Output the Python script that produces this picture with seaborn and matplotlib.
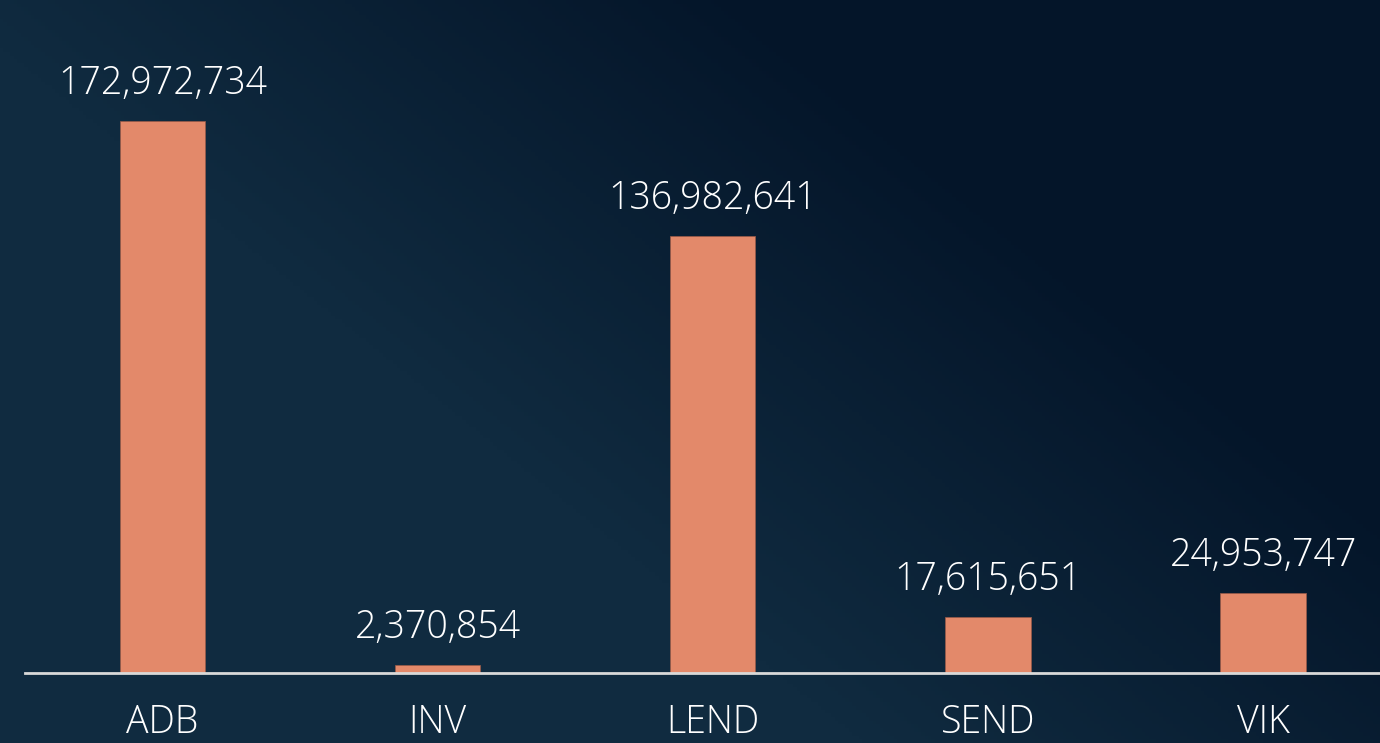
import matplotlib
matplotlib.use("Agg")
import matplotlib.pyplot as plt
import numpy as np
import pandas as pd
import seaborn as sns

tickers = ["ADB", "INV", "LEND", "SEND", "VIK"]
amounts = [172972734, 2370854, 136982641, 17615651, 24953747]

bar_color = "#E3896A"
text_color = "#FFFFFF"

sns.set_theme(style="white")
plt.rcParams["font.family"] = ["Open Sans", "DejaVu Sans"]

fig = plt.figure(figsize=(13.8, 7.43), dpi=100)

# background gradient: lighter teal-navy at lower left, darker at upper right
bg = fig.add_axes([0, 0, 1, 1])
h, w = 200, 400
yy, xx = np.mgrid[0:1:h * 1j, 0:1:w * 1j]
t = np.clip((xx * 1.2 + (1 - yy) * 0.8 - 0.75) / 0.7, 0, 1)
c0 = np.array([0x10, 0x2B, 0x40]) / 255
c1 = np.array([0x04, 0x15, 0x29]) / 255
img = c0[None, None, :] * (1 - t[..., None]) + c1[None, None, :] * t[..., None]
bg.imshow(img, aspect="auto", extent=[0, 1, 0, 1], origin="upper")
bg.set_axis_off()

ax = fig.add_axes([25 / 1380, 70 / 743, 1 - 25 / 1380, 673 / 743])
ax.patch.set_alpha(0)

df = pd.DataFrame({"ticker": tickers, "amount": amounts})
sns.barplot(data=df, x="ticker", y="amount", color=bar_color, saturation=1,
            width=0.31, edgecolor="#9a5a48", linewidth=0.5, ax=ax)

ax.set_xlim(-0.5, 4.425)
ax.set_ylim(0, 211e6)

for i, v in enumerate(amounts):
    ax.annotate(f"{v:,}", (i, v), xytext=(0, 13), textcoords="offset points",
                ha="center", va="bottom", color=text_color, fontsize=27,
                fontweight="light")

ax.set_xlabel("")
ax.set_ylabel("")
ax.set_yticks([])
ax.tick_params(axis="x", length=0, pad=22, labelsize=27, labelcolor=text_color)
for lab in ax.get_xticklabels():
    lab.set_fontweight("light")
for side in ["top", "right", "left"]:
    ax.spines[side].set_visible(False)
ax.spines["bottom"].set_color("#D9D9D9")
ax.spines["bottom"].set_linewidth(2)

fig.savefig("out.png", dpi=100)
